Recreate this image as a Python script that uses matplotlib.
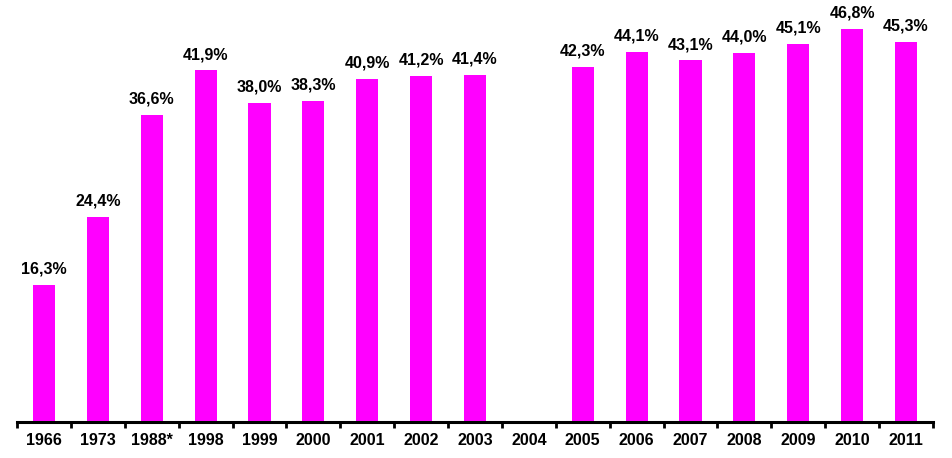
import matplotlib
matplotlib.use('Agg')
import matplotlib.pyplot as plt
import numpy as np

# Datos
anios = ['1966', '1973', '1988*', '1998', '1999', '2000', '2001', '2002', '2003',
         '2004', '2005', '2006', '2007', '2008', '2009', '2010', '2011']
valores = [16.3, 24.4, 36.6, 41.9, 38.0, 38.3, 40.9, 41.2, 41.4,
           None, 42.3, 44.1, 43.1, 44.0, 45.1, 46.8, 45.3]

plt.rcParams['font.family'] = ['Liberation Sans', 'DejaVu Sans']

fig = plt.figure(figsize=(9.53, 4.58), dpi=100)
ax = fig.add_axes([17 / 953, 36 / 458, 916 / 953, 422 / 458])

x = np.arange(len(anios))
for i, v in zip(x, valores):
    if v is None:
        continue
    ax.bar(i, v, width=0.41, color='#ff00ff')
    ax.text(i, v + 1.0, ('%.1f%%' % v).replace('.', ','), ha='center', va='bottom',
            fontsize=11.5, fontweight='bold')

ax.set_xlim(-0.5, len(anios) - 0.5)
ax.set_ylim(0, 50.3)

# Ejes
for s in ['top', 'right', 'left']:
    ax.spines[s].set_visible(False)
ax.spines['bottom'].set_linewidth(2.2)
ax.set_yticks([])
ax.set_xticks(np.arange(len(anios) + 1) - 0.5, minor=False)
ax.set_xticklabels([])
ax.tick_params(axis='x', which='major', direction='out', length=4, width=2)
ax.set_xticks(x, minor=True)
ax.set_xticklabels(anios, minor=True, fontsize=11.5, fontweight='bold')
ax.tick_params(axis='x', which='minor', length=0, pad=8)

fig.savefig('out.png', dpi=100)
